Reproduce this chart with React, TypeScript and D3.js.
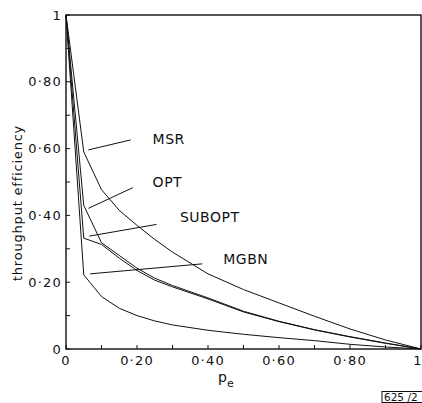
import React from 'react';
import {scaleLinear, line} from 'd3';

// p_e sample points and throughput efficiency per scheme
const pe = [0, 0.05, 0.1, 0.15, 0.2, 0.25, 0.3, 0.4, 0.5, 0.6, 0.7, 0.8, 0.9, 1];
const msr = [1, 0.59, 0.477, 0.415, 0.37, 0.328, 0.29, 0.225, 0.178, 0.138, 0.098, 0.06, 0.027, 0];
const opt = [1, 0.43, 0.318, 0.28, 0.242, 0.212, 0.19, 0.153, 0.113, 0.083, 0.058, 0.037, 0.018, 0];
const subopt = [1, 0.332, 0.313, 0.272, 0.235, 0.206, 0.186, 0.15, 0.111, 0.082, 0.057, 0.036, 0.017, 0];
const mgbn = [1, 0.222, 0.157, 0.122, 0.1, 0.084, 0.072, 0.056, 0.044, 0.034, 0.025, 0.014, 0.006, 0];

const series = [msr, opt, subopt, mgbn];

const tickValues = [0, 0.2, 0.4, 0.6, 0.8, 1];
const xTickLabels = ['0', '0·20', '0·40', '0·60', '0·80', '1'];
const yTickLabels = ['0', '0·20', '0·40', '0·60', '0·80', '1'];

// curve labels and their leader lines, in data units
const labelNames = ['MSR', 'OPT', 'SUBOPT', 'MGBN'];
const labelX = [0.244, 0.244, 0.321, 0.443];
const labelY = [0.614, 0.485, 0.379, 0.254];
const leaderFrom = [[0.063, 0.596], [0.063, 0.421], [0.066, 0.338], [0.068, 0.225]];
const leaderTo = [[0.182, 0.626], [0.188, 0.483], [0.255, 0.373], [0.384, 0.255]];

const W = 422, H = 403;
const margin = {left: 66, top: 15, right: 1, bottom: 54};

const App = () => {
    let x = scaleLinear().domain([0, 1]).range([margin.left, W - margin.right]);
    let y = scaleLinear().domain([0, 1]).range([H - margin.bottom, margin.top]);
    let l = line<number>().x((d, i) => x(pe[i])).y(d => y(d));
    let minor = x.ticks(10);
    let font = '"DejaVu Sans", sans-serif';
    let ink = '#111';

    return (
        <svg width={W} height={H} style={{position: 'absolute', left: 0, top: 0, background: '#fff'}}>
            {/* frame */}
            <rect x={x(0)} y={y(1)} width={x(1) - x(0)} height={y(0) - y(1)} fill="none" stroke={ink} strokeWidth={1.4}/>

            {/* minor ticks, pointing inward */}
            {minor.map((t, i) => <g key={i}>
                <line x1={x(t)} x2={x(t)} y1={y(0)} y2={y(0) - 4} stroke={ink} strokeWidth={1}/>
                <line x1={x(0)} x2={x(0) + 4} y1={y(t)} y2={y(t)} stroke={ink} strokeWidth={1}/>
            </g>)}

            {/* tick labels */}
            <g fontFamily={font} fontSize={13} fill={ink} letterSpacing={1.2}>
                {tickValues.map((t, i) => <text key={'x' + i} x={i === tickValues.length - 1 ? x(t) - 3 : x(t)} y={y(0) + 16}
                                                textAnchor="middle">{xTickLabels[i]}</text>)}
                {tickValues.map((t, i) => <text key={'y' + i} x={x(0) - 4} y={y(t) + 4.5} textAnchor="end">{yTickLabels[i]}</text>)}
            </g>

            {/* curves */}
            {series.map((s, i) => <path key={i} d={l(s) as string} fill="none" stroke={ink} strokeWidth={1}/>)}

            {/* labels with leader lines */}
            {labelNames.map((n, i) => <g key={n}>
                <line x1={x(leaderFrom[i][0])} y1={y(leaderFrom[i][1])} x2={x(leaderTo[i][0])} y2={y(leaderTo[i][1])} stroke={ink} strokeWidth={1}/>
                <text x={x(labelX[i])} y={y(labelY[i])} fontFamily={font} fontSize={14} letterSpacing={0.5} fill={ink}>{n}</text>
            </g>)}

            {/* axis titles */}
            <text transform={`translate(22,${(y(0) + y(1)) / 2 + 21}) rotate(-90)`} textAnchor="middle"
                  fontFamily={font} fontSize={13} letterSpacing={0.8} fill={ink}>throughput efficiency</text>
            <text x={218} y={382} fontFamily={font} fontSize={14} fill={ink}>p<tspan dy={5} fontSize={11}>e</tspan></text>

            {/* figure number */}
            <rect x={382} y={391.5} width={45} height={11} fill="none" stroke={ink} strokeWidth={1}/>
            <text x={384} y={401} fontFamily={font} fontSize={10.5} fill={ink}>625 /2</text>
        </svg>
    );
};

export default App;
